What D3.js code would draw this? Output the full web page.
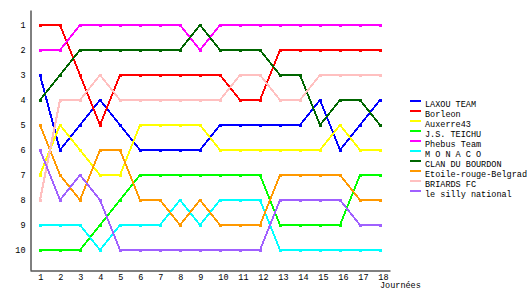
<!DOCTYPE html>
<html>
<head>
<meta charset="utf-8">
<script src="https://cdn.jsdelivr.net/npm/d3@7"></script>
<style>
  body { margin: 0; background: #fff; }
  svg { display: block; }
  text { font-family: "Liberation Mono", "DejaVu Sans Mono", monospace; font-size: 8.5px; fill: #000; }
</style>
</head>
<body>
<svg id="chart" width="530" height="300"></svg>
<script>
const days = d3.range(1, 19);
const rankTicks = d3.range(1, 11);

const teams = ['LAXOU TEAM', 'Borleon', 'Auxerre43', 'J.S. TEICHU', 'Phebus Team',
  'M O N A C O', 'CLAN DU BOURDON', 'Etoile-rouge-Belgrad', 'BRIARDS FC', 'le silly national'];
const colors = ['#0000ff', '#ff0000', '#ffff00', '#00ff00', '#ff00ff',
  '#00ffff', '#006600', '#ff9900', '#ffc0c0', '#a060ff'];

const laxou   = [3, 6, 5, 4, 5, 6, 6, 6, 6, 5, 5, 5, 5, 5, 4, 6, 5, 4];
const borleon = [1, 1, 3, 5, 3, 3, 3, 3, 3, 3, 4, 4, 2, 2, 2, 2, 2, 2];
const auxerre = [7, 5, 6, 7, 7, 5, 5, 5, 5, 6, 6, 6, 6, 6, 6, 5, 6, 6];
const teichu  = [10, 10, 10, 9, 8, 7, 7, 7, 7, 7, 7, 7, 9, 9, 9, 9, 7, 7];
const phebus  = [2, 2, 1, 1, 1, 1, 1, 1, 2, 1, 1, 1, 1, 1, 1, 1, 1, 1];
const monaco  = [9, 9, 9, 10, 9, 9, 9, 8, 9, 8, 8, 8, 10, 10, 10, 10, 10, 10];
const clan    = [4, 3, 2, 2, 2, 2, 2, 2, 1, 2, 2, 2, 3, 3, 5, 4, 4, 5];
const etoile  = [5, 7, 8, 6, 6, 8, 8, 9, 8, 9, 9, 9, 7, 7, 7, 7, 8, 8];
const briards = [8, 4, 4, 3, 4, 4, 4, 4, 4, 4, 3, 3, 4, 4, 3, 3, 3, 3];
const silly   = [6, 8, 7, 8, 10, 10, 10, 10, 10, 10, 10, 10, 8, 8, 8, 8, 9, 9];

const ranks = [laxou, borleon, auxerre, teichu, phebus, monaco, clan, etoile, briards, silly];

const svg = d3.select('#chart');
const x = d3.scaleLinear().domain([0.5, 18.5]).range([30, 390]);
const y = d3.scaleLinear().domain([0.4, 10.8]).range([10, 270]);

// axes
const xAxis = svg.append('g')
  .attr('transform', 'translate(0,270.5)')
  .call(d3.axisBottom(x).tickValues(days).tickFormat(d3.format('d')).tickSize(0).tickSizeOuter(0).tickPadding(3));
xAxis.selectAll('text')
  .attr('text-anchor', 'start')
  .attr('dx', -2.2)
  .attr('dy', '0.71em');

const yAxis = svg.append('g')
  .attr('transform', 'translate(30.5,0)')
  .call(d3.axisLeft(y).tickValues(rankTicks).tickFormat(d3.format('d')).tickSize(0).tickSizeOuter(0).tickPadding(5));

svg.selectAll('.domain').attr('stroke', '#000').attr('stroke-width', 1);
svg.selectAll('.tick text').style('font-family', '"Liberation Mono", "DejaVu Sans Mono", monospace').style('font-size', '8.5px');

svg.append('text')
  .attr('x', 380)
  .attr('y', 288)
  .text('Journées');

// series
const line = d3.line().x((d, i) => x(days[i])).y(d => y(d));

const series = svg.append('g')
  .selectAll('g')
  .data(ranks)
  .join('g');

series.append('path')
  .attr('d', d => line(d))
  .attr('fill', 'none')
  .attr('stroke', (d, i) => colors[i])
  .attr('stroke-width', 2)
  .attr('shape-rendering', 'crispEdges');

series.selectAll('rect')
  .data((d, i) => d.map((v, j) => ({ v, j, c: colors[i] })))
  .join('rect')
  .attr('x', d => x(days[d.j]) - 1.5)
  .attr('y', d => y(d.v) - 1.5)
  .attr('width', 3)
  .attr('height', 3)
  .attr('fill', d => d.c)
  .attr('shape-rendering', 'crispEdges');

// legend
const legend = svg.append('g')
  .selectAll('g')
  .data(teams)
  .join('g')
  .attr('transform', (d, i) => `translate(410,${101 + i * 10})`);

legend.append('rect')
  .attr('x', 0)
  .attr('y', -1)
  .attr('width', 11)
  .attr('height', 2)
  .attr('fill', (d, i) => colors[i]);

legend.append('text')
  .attr('x', 15)
  .attr('y', 6)
  .text(d => d);
</script>
</body>
</html>
